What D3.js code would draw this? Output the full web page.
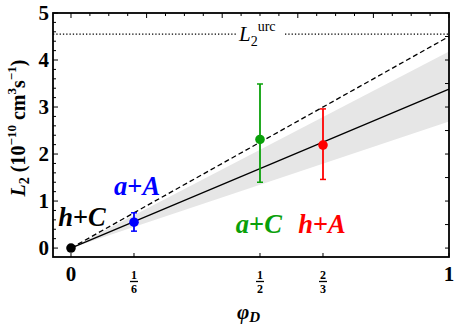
<!DOCTYPE html>
<html><head><meta charset="utf-8">
<script src="https://cdn.jsdelivr.net/npm/d3@7/dist/d3.min.js"></script>
<style>body{margin:0;background:#fff}svg{display:block}text{font-family:"Liberation Serif","Times New Roman",serif}</style>
</head><body>
<script>
// ---- data ----
const processes = ["h+C", "a+A", "a+C", "h+A"];
const phiD = [0, 1/6, 1/2, 2/3];
const L2 = [0, 0.55, 2.31, 2.19];
const L2lo = [0, 0.36, 1.40, 1.46];
const L2hi = [0, 0.75, 3.49, 2.96];
const colors = ["#000000", "#0000ff", "#0aa00a", "#ff0000"];
const L2urc = 4.55;
const fitSlope = 3.38;
const bandLo = 2.69, bandHi = 4.18;
const dashedSlope = 4.5;
const yTicks = [0, 1, 2, 3, 4, 5];
const xTickVals = [0, 1/6, 1/2, 2/3, 1];
const xTickLabels = ["0", "1/6", "1/2", "2/3", "1"];

(function () {
const W = 463, H = 324;
const mL = 53, mR = 449, mT = 13, mB = 257;
const svg = d3.select("body").append("svg").attr("width", W).attr("height", H);
const x = d3.scaleLinear().domain([-0.0476, 1]).range([mL, mR]);
const y = d3.scaleLinear().domain([-0.19, 5]).range([mB, mT]);

// band
const band = d3.area().x(d => x(d)).y0(d => y(bandLo * d)).y1(d => y(bandHi * d));
svg.append("path").datum([0, 1]).attr("d", band).attr("fill", "#e6e6e6");

// dotted L2urc line with gap for label
const gapL = 236, gapR = 285;
svg.append("line").attr("x1", mL).attr("x2", gapL).attr("y1", y(L2urc)).attr("y2", y(L2urc))
  .attr("stroke", "#000").attr("stroke-width", 1.3).attr("stroke-dasharray", "1.3,2");
svg.append("line").attr("x1", gapR).attr("x2", mR).attr("y1", y(L2urc)).attr("y2", y(L2urc))
  .attr("stroke", "#000").attr("stroke-width", 1.3).attr("stroke-dasharray", "1.3,2");
const ul = svg.append("text").attr("x", 239).attr("y", y(L2urc) + 7).attr("font-size", 21).attr("font-style", "italic");
ul.append("tspan").text("L");
ul.append("tspan").attr("font-size", 14).attr("font-style", "normal").attr("dy", 5).text("2");
ul.append("tspan").attr("font-size", 14).attr("font-style", "normal").attr("dy", -15).text("urc");

// dashed line
svg.append("line").attr("x1", x(0)).attr("y1", y(0)).attr("x2", x(1)).attr("y2", y(dashedSlope))
  .attr("stroke", "#000").attr("stroke-width", 1.3).attr("stroke-dasharray", "5,3");
// solid fit
svg.append("line").attr("x1", x(0)).attr("y1", y(0)).attr("x2", x(1)).attr("y2", y(fitSlope))
  .attr("stroke", "#000").attr("stroke-width", 1.3);

// error bars and points
const pts = processes.map((p, i) => ({p, x: phiD[i], y: L2[i], lo: L2lo[i], hi: L2hi[i], c: colors[i]}));
const eb = pts.filter(d => d.hi > d.lo);
svg.selectAll("line.eb").data(eb).join("line").attr("x1", d => x(d.x)).attr("x2", d => x(d.x))
  .attr("y1", d => y(d.lo)).attr("y2", d => y(d.hi)).attr("stroke", d => d.c).attr("stroke-width", 1.8);
["lo", "hi"].forEach(k => {
  svg.selectAll("line.cap" + k).data(eb).join("line").attr("x1", d => x(d.x) - 3).attr("x2", d => x(d.x) + 3)
    .attr("y1", d => y(d[k])).attr("y2", d => y(d[k])).attr("stroke", d => d.c).attr("stroke-width", 1.5);
});
svg.selectAll("circle.pt").data(pts).join("circle").attr("cx", d => x(d.x)).attr("cy", d => y(d.y))
  .attr("r", 4.8).attr("fill", d => d.c);

// labels
const labelPos = {"h+C": [0.029, 0.47], "a+A": [0.175, 1.13], "a+C": [0.497, 0.32], "h+A": [0.664, 0.32]};
pts.forEach(d => {
  const [lx, ly] = labelPos[d.p];
  const t = svg.append("text").attr("x", x(lx)).attr("y", y(ly)).attr("text-anchor", "middle")
    .attr("font-size", 26.5).attr("font-weight", "bold").attr("fill", d.c);
  const parts = d.p.split("+");
  t.append("tspan").attr("font-style", "italic").text(parts[0]);
  t.append("tspan").text("+");
  t.append("tspan").attr("font-style", "italic").text(parts[1]);
});

// frame
svg.append("rect").attr("x", mL).attr("y", mT).attr("width", mR - mL).attr("height", mB - mT)
  .attr("fill", "none").attr("stroke", "#000").attr("stroke-width", 1.8);

// ticks
const tk = svg.append("g").attr("stroke", "#000").attr("stroke-width", 1);
d3.range(0, 1.0001, 0.05).forEach(v => {
  const major = Math.abs(v * 5 - Math.round(v * 5)) < 1e-6;
  tk.append("line").attr("x1", x(v)).attr("x2", x(v)).attr("y1", mT).attr("y2", mT + (major ? 5 : 3));
});
xTickVals.forEach(v => tk.append("line").attr("x1", x(v)).attr("x2", x(v)).attr("y1", mB).attr("y2", mB - 4));
d3.range(0, 5.0001, 0.2).forEach(v => {
  const major = Math.abs(v - Math.round(v)) < 1e-6;
  tk.append("line").attr("x1", mL).attr("x2", mL + (major ? 5 : 3)).attr("y1", y(v)).attr("y2", y(v));
});
d3.range(0, 5.0001, 0.5).forEach(v => {
  tk.append("line").attr("x1", mR).attr("x2", mR - 4).attr("y1", y(v)).attr("y2", y(v));
});

// y tick labels
svg.selectAll("text.yt").data(yTicks).join("text").attr("x", mL - 4).attr("y", d => y(d) + 7)
  .attr("text-anchor", "end").attr("font-size", 21).attr("font-weight", "bold").text(d => d);

// x tick labels
xTickVals.forEach((v, i) => {
  const lab = xTickLabels[i];
  if (lab.includes("/")) {
    const [n, dn] = lab.split("/");
    svg.append("text").attr("x", x(v)).attr("y", 279).attr("text-anchor", "middle").attr("font-size", 12)
      .attr("font-weight", "bold").text(n);
    svg.append("line").attr("x1", x(v) - 4).attr("x2", x(v) + 4).attr("y1", 281.5).attr("y2", 281.5)
      .attr("stroke", "#000").attr("stroke-width", 1.3);
    svg.append("text").attr("x", x(v)).attr("y", 293).attr("text-anchor", "middle").attr("font-size", 12)
      .attr("font-weight", "bold").text(dn);
  } else {
    svg.append("text").attr("x", x(v)).attr("y", 281).attr("text-anchor", "middle").attr("font-size", 21)
      .attr("font-weight", "bold").text(lab);
  }
});

// x axis label
const xl = svg.append("text").attr("x", 237).attr("y", 319).attr("text-anchor", "start")
  .attr("font-size", 21).attr("font-weight", "bold").attr("font-style", "italic");
xl.append("tspan").text("φ");
xl.append("tspan").attr("font-size", 15).attr("dy", 3).text("D");

// y axis label
const yl = svg.append("text").attr("transform", `translate(25,${128}) rotate(-90)`).attr("text-anchor", "middle")
  .attr("font-size", 20).attr("font-weight", "bold");
yl.append("tspan").attr("font-style", "italic").text("L");
yl.append("tspan").attr("font-size", 14).attr("dy", 4).text("2");
yl.append("tspan").attr("dy", -4).text(" (10");
yl.append("tspan").attr("font-size", 13).attr("dy", -9).text("−10");
yl.append("tspan").attr("dy", 9).text(" cm");
yl.append("tspan").attr("font-size", 13).attr("dy", -9).text("3");
yl.append("tspan").attr("dy", 9).text("s");
yl.append("tspan").attr("font-size", 13).attr("dy", -9).text("−1");
yl.append("tspan").attr("dy", 9).text(")");
})();
</script>
</body></html>
